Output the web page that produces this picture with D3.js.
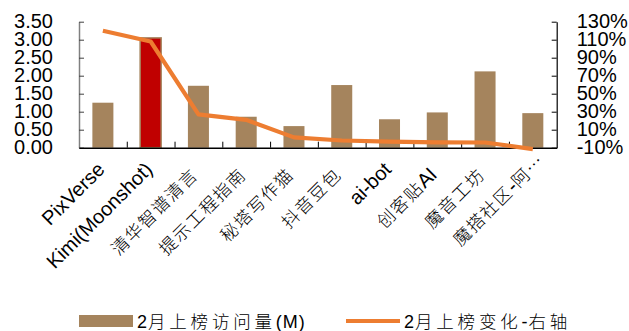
<!DOCTYPE html>
<html><head><meta charset="utf-8">
<script src="https://cdn.jsdelivr.net/npm/d3@7"></script>
<style>
body{margin:0;background:#fff}
svg{display:block}
.lat{font-family:"Liberation Sans",Arial,sans-serif}
.cjk{font-family:"Noto Sans CJK SC",sans-serif;font-weight:300}
</style></head><body>
<svg id="c" width="629" height="331"></svg>
<script>
const categories=["PixVerse","Kimi(Moonshot)","清华智谱清言","提示工程指南","秘塔写作猫","抖音豆包","ai-bot","创客贴AI","魔音工坊","魔搭社区-阿…"];
const visits=[1.25,3.05,1.72,0.86,0.60,1.74,0.79,0.98,2.12,0.96];
const change=[120,108,27,21,1.5,-2,-3.3,-4,-4.2,-11.5];
const leftTicks=[0,0.5,1,1.5,2,2.5,3,3.5];
const rightTicks=[-10,10,30,50,70,90,110,130];
const seriesNames=["2月上榜访问量(M)","2月上榜变化-右轴"];
const highlight="Kimi(Moonshot)";

const barColor="#A5845D", hiColor="#C00000", lineColor="#ED7D31";
const L=79,R=556.7,T=21.7,B=147.7;
const svg=d3.select("#c");

const x=d3.scaleBand().domain(categories).range([L,R]).padding(0);
const cx=c=>x(c)+x.bandwidth()/2;
const yL=d3.scaleLinear().domain([0,3.5]).range([B,T]);
const yR=d3.scaleLinear().domain([-10,130]).range([B,T]);
const bw=x.bandwidth()*0.44;

const CJK=/[\u3000-\u9fff\uff00-\uffef\u2026]/;
function runs(s){return s.match(/[\u3000-\u9fff\uff00-\uffef\u2026]+|[^\u3000-\u9fff\uff00-\uffef\u2026]+/g);}
function fillText(t,s,latSize,cjkSize,ls,latLs){
  runs(s).forEach(r=>{
    const isC=CJK.test(r);
    t.append("tspan").attr("class",isC?"cjk":"lat")
      .attr("font-size",isC?cjkSize:latSize)
      .attr("letter-spacing",isC?ls:(latLs||0))
      .text(r);
  });
}

// bars
svg.append("g").selectAll("rect").data(categories).join("rect")
  .attr("x",c=>cx(c)-bw/2)
  .attr("y",(c,i)=>yL(visits[i]))
  .attr("width",bw)
  .attr("height",(c,i)=>yL(0)-yL(visits[i]))
  .attr("fill",c=>c===highlight?hiColor:barColor)
  .attr("stroke",c=>c===highlight?barColor:"none")
  .attr("stroke-width",1.5);

// left axis
const gl=svg.append("g").attr("transform",`translate(${L},0)`)
  .call(d3.axisLeft(yL).tickValues(leftTicks).tickFormat(d3.format(".2f")).tickSizeInner(-5).tickSizeOuter(0).tickPadding(26));
gl.select(".domain").attr("stroke","#808080").attr("stroke-width",1.5);
gl.selectAll(".tick line").attr("stroke","#404040");
gl.selectAll("text").attr("class","lat").attr("font-size",20).attr("fill","#000").attr("dy","0.3em");

// right axis
const gr=svg.append("g").attr("transform",`translate(${R},0)`)
  .call(d3.axisRight(yR).tickValues(rightTicks).tickFormat(d=>d+"%").tickSizeInner(-5).tickSizeOuter(0).tickPadding(20));
gr.select(".domain").attr("stroke","#000").attr("stroke-width",1.2);
gr.selectAll(".tick line").attr("stroke","#000");
gr.selectAll("text").attr("class","lat").attr("font-size",20).attr("fill","#000").attr("dy","0.3em");

// bottom axis with ticks between categories
const xb=d3.scaleLinear().domain([0,categories.length]).range([L,R]);
const gb=svg.append("g").attr("transform",`translate(0,${B})`)
  .call(d3.axisBottom(xb).tickValues(d3.range(1,categories.length)).tickSizeInner(-6).tickSizeOuter(0).tickFormat(""));
gb.select(".domain").attr("stroke","#000").attr("stroke-width",1.5);
gb.selectAll(".tick line").attr("stroke","#000");

// line
svg.append("path").datum(categories)
  .attr("fill","none").attr("stroke",lineColor).attr("stroke-width",4.2)
  .attr("stroke-linejoin","round")
  .attr("d",d3.line().x(c=>cx(c)).y((c,i)=>yR(change[i])));

// x labels
const gx=svg.append("g");
categories.forEach(c=>{
  const hasC=CJK.test(c);
  let ax=cx(c)+(hasC?1:3), ay=B+(hasC?28:23);
  if(c.endsWith("…")){ax+=12;ay-=14;}
  const t=gx.append("text").attr("text-anchor","end")
    .attr("transform",`translate(${ax},${ay}) rotate(-45)`).attr("fill","#000");
  fillText(t,c,20,17.5,1.5);
});

// legend
const ly=321;
svg.append("rect").attr("x",79).attr("y",ly-6).attr("width",54).attr("height",12).attr("fill",barColor);
const t1=svg.append("text").attr("x",137).attr("y",ly+6.5).attr("fill","#000");
fillText(t1,seriesNames[0],18,17.5,3.8,1);
svg.append("line").attr("x1",346).attr("x2",400).attr("y1",ly).attr("y2",ly).attr("stroke",lineColor).attr("stroke-width",4);
const t2=svg.append("text").attr("x",404).attr("y",ly+6.5).attr("fill","#000");
fillText(t2,seriesNames[1],18,17.5,3.8,1);
</script>
</body></html>
